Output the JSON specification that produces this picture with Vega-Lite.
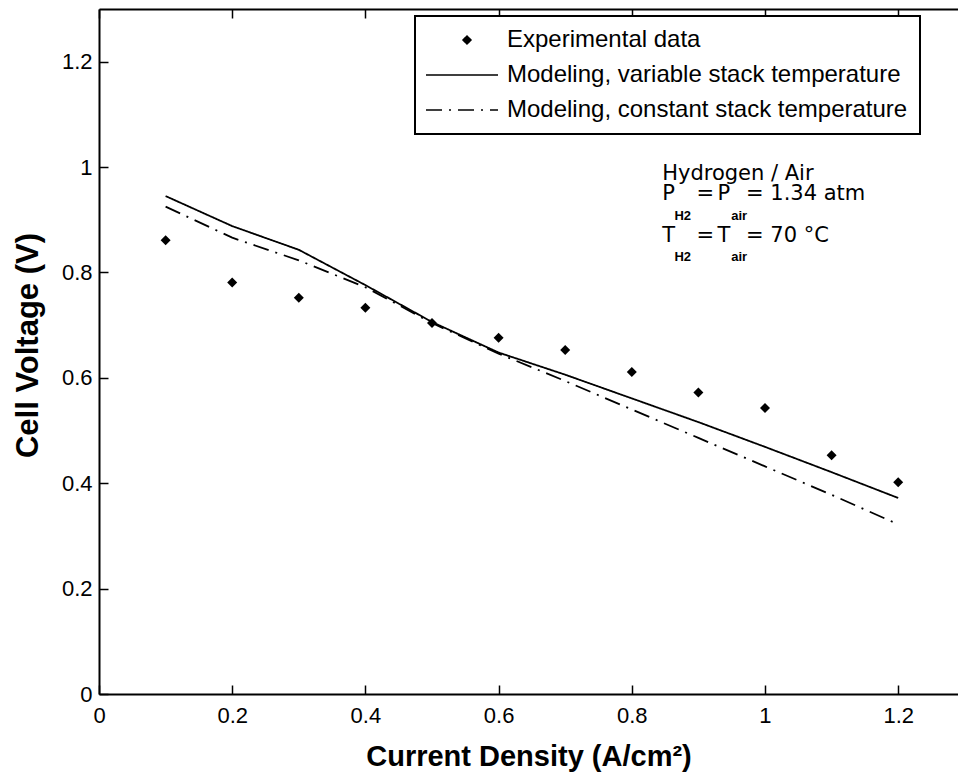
{
  "$schema": "https://vega.github.io/schema/vega-lite/v6.json",
  "width": 859,
  "height": 685,
  "autosize": "none",
  "padding": {"left": 99, "top": 9, "right": 0, "bottom": 82},
  "background": "white",
  "config": {"view": {"stroke": null}, "font": "Liberation Sans"},
  "datasets": {
    "exp": [
      {"x": 0.1, "y": 0.861}, {"x": 0.2, "y": 0.781}, {"x": 0.3, "y": 0.752},
      {"x": 0.4, "y": 0.733}, {"x": 0.5, "y": 0.704}, {"x": 0.6, "y": 0.676},
      {"x": 0.7, "y": 0.653}, {"x": 0.8, "y": 0.611}, {"x": 0.9, "y": 0.572},
      {"x": 1.0, "y": 0.543}, {"x": 1.1, "y": 0.453}, {"x": 1.2, "y": 0.402}
    ],
    "model": [
      {"series": "Modeling, variable stack temperature", "x": 0.1, "y": 0.945},
      {"series": "Modeling, variable stack temperature", "x": 0.2, "y": 0.888},
      {"series": "Modeling, variable stack temperature", "x": 0.3, "y": 0.843},
      {"series": "Modeling, variable stack temperature", "x": 0.4, "y": 0.776},
      {"series": "Modeling, variable stack temperature", "x": 0.5, "y": 0.706},
      {"series": "Modeling, variable stack temperature", "x": 0.6, "y": 0.648},
      {"series": "Modeling, variable stack temperature", "x": 0.7, "y": 0.606},
      {"series": "Modeling, variable stack temperature", "x": 0.8, "y": 0.561},
      {"series": "Modeling, variable stack temperature", "x": 0.9, "y": 0.516},
      {"series": "Modeling, variable stack temperature", "x": 1.0, "y": 0.469},
      {"series": "Modeling, variable stack temperature", "x": 1.1, "y": 0.421},
      {"series": "Modeling, variable stack temperature", "x": 1.2, "y": 0.372},
      {"series": "Modeling, constant stack temperature", "x": 0.1, "y": 0.925},
      {"series": "Modeling, constant stack temperature", "x": 0.2, "y": 0.866},
      {"series": "Modeling, constant stack temperature", "x": 0.3, "y": 0.823},
      {"series": "Modeling, constant stack temperature", "x": 0.4, "y": 0.772},
      {"series": "Modeling, constant stack temperature", "x": 0.5, "y": 0.704},
      {"series": "Modeling, constant stack temperature", "x": 0.6, "y": 0.646},
      {"series": "Modeling, constant stack temperature", "x": 0.7, "y": 0.594},
      {"series": "Modeling, constant stack temperature", "x": 0.8, "y": 0.540},
      {"series": "Modeling, constant stack temperature", "x": 0.9, "y": 0.486},
      {"series": "Modeling, constant stack temperature", "x": 1.0, "y": 0.432},
      {"series": "Modeling, constant stack temperature", "x": 1.1, "y": 0.378},
      {"series": "Modeling, constant stack temperature", "x": 1.2, "y": 0.322}
    ],
    "notes": [
      {"role": "main", "x": 0.8456, "y": 0.9749, "text": "Hydrogen / Air"},
      {"role": "main", "x": 0.8456, "y": 0.9369, "text": "P"},
      {"role": "main", "x": 0.8971, "y": 0.9369, "text": "="},
      {"role": "main", "x": 0.9287, "y": 0.9369, "text": "P"},
      {"role": "main", "x": 0.9715, "y": 0.9369, "text": "= 1.34 atm"},
      {"role": "sub", "x": 0.8641, "y": 0.9003, "text": "H2"},
      {"role": "sub", "x": 0.9492, "y": 0.9003, "text": "air"},
      {"role": "main", "x": 0.8456, "y": 0.8585, "text": "T"},
      {"role": "main", "x": 0.8971, "y": 0.8585, "text": "="},
      {"role": "main", "x": 0.9287, "y": 0.8585, "text": "T"},
      {"role": "main", "x": 0.9715, "y": 0.8585, "text": "= 70 °C"},
      {"role": "sub", "x": 0.8641, "y": 0.8224, "text": "H2"},
      {"role": "sub", "x": 0.9492, "y": 0.8224, "text": "air"}
    ]
  },
  "layer": [
    {
      "data": {"name": "exp"},
      "mark": {"type": "point", "shape": "diamond", "filled": true, "color": "black", "size": 100, "opacity": 1},
      "encoding": {
        "x": {
          "field": "x", "type": "quantitative",
          "scale": {"domain": [0, 1.2898], "nice": false, "zero": false},
          "axis": {
            "orient": "bottom",
            "values": [0, 0.2, 0.4, 0.6, 0.8, 1, 1.2],
            "format": "~g",
            "grid": false,
            "labelFlush": false,
            "domainColor": "black", "domainWidth": 2,
            "tickColor": "black", "tickWidth": 1.5, "tickSize": -9,
            "labelPadding": 20, "labelBaseline": "top",
            "labelFont": "Liberation Sans Narrow, Liberation Sans", "labelFontSize": 22, "labelColor": "black",
            "title": "Current Density (A/cm²)",
            "titleFont": "Liberation Sans", "titleFontSize": 29, "titleFontWeight": "bold", "titleColor": "black",
            "titleBaseline": "alphabetic", "titleY": 71
          }
        },
        "y": {
          "field": "y", "type": "quantitative",
          "scale": {"domain": [0, 1.3], "nice": false, "zero": false},
          "axis": {
            "values": [0, 0.2, 0.4, 0.6, 0.8, 1, 1.2],
            "format": "~g",
            "grid": false,
            "labelFlush": false,
            "domainColor": "black", "domainWidth": 2,
            "tickColor": "black", "tickWidth": 1.5, "tickSize": -9,
            "labelPadding": 16,
            "labelFont": "Liberation Sans Narrow, Liberation Sans", "labelFontSize": 22, "labelColor": "black",
            "title": "Cell Voltage (V)",
            "titleFont": "Liberation Sans", "titleFontSize": 31, "titleFontWeight": "bold", "titleColor": "black",
            "titleAngle": -90, "titleBaseline": "alphabetic", "titleAlign": "center",
            "titleX": -62, "titleY": 336
          }
        }
      }
    },
    {
      "data": {"name": "model"},
      "mark": {"type": "line", "color": "black", "strokeWidth": 1.8},
      "encoding": {
        "x": {
          "field": "x", "type": "quantitative",
          "scale": {"domain": [0, 1.2898], "nice": false, "zero": false},
          "axis": {
            "orient": "top",
            "values": [0, 0.2, 0.4, 0.6, 0.8, 1, 1.2],
            "labels": false,
            "grid": false,
            "domainColor": "black", "domainWidth": 2,
            "tickColor": "black", "tickWidth": 1.5, "tickSize": -9,
            "title": null
          }
        },
        "y": {
          "field": "y", "type": "quantitative",
          "scale": {"domain": [0, 1.3], "nice": false, "zero": false}
        },
        "strokeDash": {
          "field": "series", "type": "nominal",
          "scale": {
            "domain": ["Experimental data", "Modeling, variable stack temperature", "Modeling, constant stack temperature"],
            "range": [[1, 0], [1, 0], [16, 7, 2, 7]]
          },
          "legend": {
            "title": null,
            "orient": "none",
            "legendX": 316,
            "legendY": 7,
            "padding": 12,
            "strokeColor": "black",
            "fillColor": "white",
            "symbolSize": 100,
            "symbolStrokeWidth": 1.5,
            "symbolStrokeColor": "black",
            "labelFont": "Liberation Sans",
            "labelFontSize": 24,
            "labelColor": "black",
            "labelOffset": 56,
            "labelLimit": 600,
            "rowPadding": 11,
            "encode": {
              "symbols": {
                "update": {
                  "shape": {"signal": "datum.value === 'Experimental data' ? 'M4.8,0L5.6,-0.8L6.4,0L5.6,0.8Z' : 'M-2.6,0L11.8,0'"},
                  "stroke": {"value": "black"},
                  "strokeWidth": {"value": 1.5},
                  "fill": {"signal": "datum.value === 'Experimental data' ? 'black' : 'transparent'"},
                  "opacity": {"value": 1}
                }
              },
              "legend": {
                "update": {"strokeWidth": {"value": 2}}
              }
            }
          }
        }
      }
    },
    {
      "data": {"name": "notes"},
      "transform": [{"filter": "datum.role === 'main'"}],
      "mark": {"type": "text", "align": "left", "baseline": "alphabetic", "font": "DejaVu Sans", "fontSize": 21, "color": "black"},
      "encoding": {
        "x": {"field": "x", "type": "quantitative", "scale": {"domain": [0, 1.2898], "nice": false, "zero": false}, "axis": null},
        "y": {"field": "y", "type": "quantitative", "scale": {"domain": [0, 1.3], "nice": false, "zero": false}},
        "text": {"field": "text"}
      }
    },
    {
      "data": {"name": "notes"},
      "transform": [{"filter": "datum.role === 'sub'"}],
      "mark": {"type": "text", "align": "left", "baseline": "alphabetic", "font": "Liberation Sans", "fontWeight": "bold", "fontSize": 13, "color": "black"},
      "encoding": {
        "x": {"field": "x", "type": "quantitative", "scale": {"domain": [0, 1.2898], "nice": false, "zero": false}, "axis": null},
        "y": {"field": "y", "type": "quantitative", "scale": {"domain": [0, 1.3], "nice": false, "zero": false}},
        "text": {"field": "text"}
      }
    }
  ],
  "resolve": {"axis": {"x": "independent"}}
}
